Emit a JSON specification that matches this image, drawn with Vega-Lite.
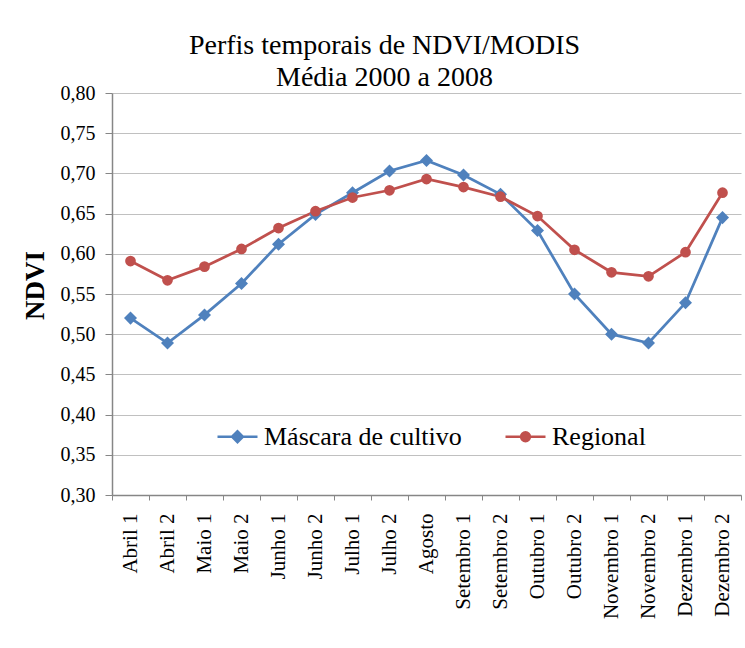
{
  "$schema": "https://vega.github.io/schema/vega-lite/v6.json",
  "width": 629,
  "height": 402,
  "autosize": "none",
  "padding": {"left": 112, "top": 93, "right": 4, "bottom": 153},
  "background": "white",
  "title": {
    "text": ["Perfis temporais de NDVI/MODIS", "Média 2000 a 2008"],
    "font": "Liberation Serif",
    "fontSize": 28,
    "fontWeight": "normal",
    "color": "black",
    "lineHeight": 32,
    "anchor": "middle",
    "baseline": "alphabetic",
    "offset": 8,
    "dx": -42,
    "dy": 39
  },
  "data": {
    "values": [
      {"periodo": "Abril 1", "serie": "Máscara de cultivo", "ndvi": 0.520},
      {"periodo": "Abril 2", "serie": "Máscara de cultivo", "ndvi": 0.489},
      {"periodo": "Maio 1", "serie": "Máscara de cultivo", "ndvi": 0.524},
      {"periodo": "Maio 2", "serie": "Máscara de cultivo", "ndvi": 0.563},
      {"periodo": "Junho 1", "serie": "Máscara de cultivo", "ndvi": 0.612},
      {"periodo": "Junho 2", "serie": "Máscara de cultivo", "ndvi": 0.649},
      {"periodo": "Julho 1", "serie": "Máscara de cultivo", "ndvi": 0.676},
      {"periodo": "Julho 2", "serie": "Máscara de cultivo", "ndvi": 0.703},
      {"periodo": "Agosto", "serie": "Máscara de cultivo", "ndvi": 0.716},
      {"periodo": "Setembro 1", "serie": "Máscara de cultivo", "ndvi": 0.698},
      {"periodo": "Setembro 2", "serie": "Máscara de cultivo", "ndvi": 0.674},
      {"periodo": "Outubro 1", "serie": "Máscara de cultivo", "ndvi": 0.629},
      {"periodo": "Outubro 2", "serie": "Máscara de cultivo", "ndvi": 0.550},
      {"periodo": "Novembro 1", "serie": "Máscara de cultivo", "ndvi": 0.500},
      {"periodo": "Novembro 2", "serie": "Máscara de cultivo", "ndvi": 0.489},
      {"periodo": "Dezembro 1", "serie": "Máscara de cultivo", "ndvi": 0.539},
      {"periodo": "Dezembro 2", "serie": "Máscara de cultivo", "ndvi": 0.645},
      {"periodo": "Abril 1", "serie": "Regional", "ndvi": 0.591},
      {"periodo": "Abril 2", "serie": "Regional", "ndvi": 0.567},
      {"periodo": "Maio 1", "serie": "Regional", "ndvi": 0.584},
      {"periodo": "Maio 2", "serie": "Regional", "ndvi": 0.606},
      {"periodo": "Junho 1", "serie": "Regional", "ndvi": 0.632},
      {"periodo": "Junho 2", "serie": "Regional", "ndvi": 0.653},
      {"periodo": "Julho 1", "serie": "Regional", "ndvi": 0.670},
      {"periodo": "Julho 2", "serie": "Regional", "ndvi": 0.679},
      {"periodo": "Agosto", "serie": "Regional", "ndvi": 0.693},
      {"periodo": "Setembro 1", "serie": "Regional", "ndvi": 0.683},
      {"periodo": "Setembro 2", "serie": "Regional", "ndvi": 0.671},
      {"periodo": "Outubro 1", "serie": "Regional", "ndvi": 0.647},
      {"periodo": "Outubro 2", "serie": "Regional", "ndvi": 0.605},
      {"periodo": "Novembro 1", "serie": "Regional", "ndvi": 0.577},
      {"periodo": "Novembro 2", "serie": "Regional", "ndvi": 0.572},
      {"periodo": "Dezembro 1", "serie": "Regional", "ndvi": 0.602},
      {"periodo": "Dezembro 2", "serie": "Regional", "ndvi": 0.676}
    ]
  },
  "encoding": {
    "x": {
      "field": "periodo",
      "type": "nominal",
      "sort": null,
      "scale": {"paddingInner": 0, "paddingOuter": 0},
      "axis": {
        "title": null,
        "labelAngle": -90,
        "labelAlign": "right",
        "labelBaseline": "middle",
        "labelFont": "Liberation Serif",
        "labelFontSize": 21,
        "labelColor": "black",
        "labelPadding": 13,
        "tickBand": "extent",
        "tickSize": 5,
        "tickColor": "#868686",
        "domainColor": "#868686",
        "domainWidth": 1.5,
        "grid": false,
        "labelLimit": 200
      }
    },
    "y": {
      "field": "ndvi",
      "type": "quantitative",
      "scale": {"domain": [0.3, 0.8], "nice": false, "zero": false},
      "axis": {
        "title": "NDVI",
        "titleFont": "Liberation Serif",
        "titleFontSize": 27,
        "titleFontWeight": "bold",
        "titleColor": "black",
        "titleAngle": -90,
        "titleX": -77,
        "titleY": 192,
        "titleAlign": "center",
        "titleBaseline": "middle",
        "values": [0.3, 0.35, 0.4, 0.45, 0.5, 0.55, 0.6, 0.65, 0.7, 0.75, 0.8],
        "labelExpr": "replace(format(datum.value, '.2f'), '.', ',')",
        "labelFont": "Liberation Serif",
        "labelFontSize": 20,
        "labelColor": "black",
        "labelPadding": 10,
        "tickSize": 7,
        "tickColor": "#868686",
        "domainColor": "#868686",
        "domainWidth": 1.5,
        "grid": true,
        "gridColor": "#c0c0c0",
        "gridWidth": 1.2
      }
    },
    "color": {
      "field": "serie",
      "type": "nominal",
      "scale": {"domain": ["Máscara de cultivo", "Regional"], "range": ["#4F81BD", "#C0504D"]},
      "legend": {
        "title": null,
        "orient": "none",
        "direction": "horizontal",
        "legendX": 104,
        "legendY": 322,
        "padding": 0,
        "columnPadding": 38,
        "symbolSize": 1600,
        "symbolStrokeWidth": 2.5,
        "labelFont": "Liberation Serif",
        "labelFontSize": 26,
        "labelColor": "black",
        "labelOffset": 5,
        "labelLimit": 400,
        "encode": {
          "symbols": {
            "update": {
              "shape": {"signal": "datum.value === 'Regional' ? 'M-1,0L1,0M-0.22,0A0.22,0.22 0 1,0 0.22,0A0.22,0.22 0 1,0 -0.22,0Z' : 'M-1,0L1,0M-0.27,0L0,-0.27L0.27,0L0,0.27Z'"},
              "fill": {"scale": "color", "field": "value"},
              "stroke": {"scale": "color", "field": "value"},
              "strokeWidth": {"value": 2.5},
              "opacity": {"value": 1}
            }
          }
        }
      }
    }
  },
  "layer": [
    {
      "mark": {"type": "line", "strokeWidth": 2.75}
    },
    {
      "transform": [{"filter": "datum.serie === 'Máscara de cultivo'"}],
      "mark": {"type": "point", "filled": true, "opacity": 1, "shape": "diamond", "size": 170}
    },
    {
      "transform": [{"filter": "datum.serie === 'Regional'"}],
      "mark": {"type": "point", "filled": true, "opacity": 1, "shape": "circle", "size": 115}
    }
  ],
  "config": {
    "view": {"stroke": null},
    "font": "Liberation Serif"
  }
}
